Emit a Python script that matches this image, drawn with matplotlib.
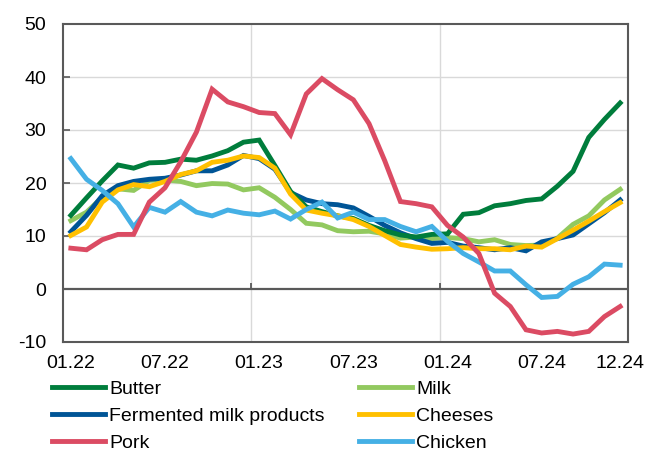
import numpy as np
import matplotlib.pyplot as plt

plt.rcParams['font.family'] = ['Liberation Sans', 'DejaVu Sans']
plt.rcParams['axes.unicode_minus'] = False

# monthly series, 01.22 .. 12.24 (annual % change)
months = [f"{m:02d}.{y}" for y in (22, 23, 24) for m in range(1, 13)]

butter = [13.9, 17.2, 20.4, 23.4, 22.8, 23.8, 23.9, 24.5, 24.3, 25.1, 26.1, 27.7,
          28.1, 23.3, 18.4, 15.5, 14.6, 13.8, 13.3, 12.0, 11.0, 10.2, 9.8, 10.3,
          10.4, 14.1, 14.4, 15.7, 16.1, 16.7, 17.0, 19.4, 22.2, 28.6, 32.0, 35.1]
milk = [12.9, 14.5, 17.3, 18.9, 18.6, 20.5, 20.6, 20.3, 19.5, 19.9, 19.8, 18.7,
        19.1, 17.3, 15.0, 12.4, 12.1, 11.0, 10.8, 10.9, 10.4, 9.6, 9.8, 9.5,
        9.7, 9.5, 8.9, 9.3, 8.4, 8.2, 8.3, 9.6, 12.2, 13.8, 16.8, 18.8]
fermented = [10.8, 13.9, 17.6, 19.5, 20.3, 20.7, 20.9, 21.5, 22.3, 22.3, 23.4, 25.2,
             24.6, 22.6, 18.2, 16.8, 16.1, 15.9, 15.3, 13.7, 12.0, 10.6, 9.5, 8.6,
             8.8, 8.1, 7.8, 7.4, 7.8, 7.2, 8.9, 9.5, 10.2, 12.3, 14.4, 16.8]
cheeses = [10.1, 11.7, 16.4, 18.7, 19.7, 19.3, 20.3, 21.6, 22.3, 23.9, 24.3, 25.1,
           24.8, 22.8, 17.9, 14.9, 14.3, 13.8, 13.1, 11.8, 10.1, 8.4, 7.9, 7.5,
           7.6, 7.8, 7.6, 7.6, 7.4, 8.1, 7.9, 9.5, 11.1, 12.8, 14.6, 16.3]
pork = [7.7, 7.4, 9.3, 10.3, 10.3, 16.4, 19.1, 24.0, 29.6, 37.7, 35.3, 34.4,
        33.3, 33.1, 29.1, 36.8, 39.7, 37.6, 35.7, 31.2, 24.2, 16.5, 16.1, 15.5,
        12.0, 9.8, 6.7, -0.8, -3.3, -7.7, -8.3, -8.0, -8.5, -8.0, -5.2, -3.3]
chicken = [24.6, 20.7, 18.6, 16.1, 11.7, 15.4, 14.5, 16.5, 14.5, 13.8, 14.9, 14.3,
           14.0, 14.7, 13.2, 15.0, 16.4, 13.4, 14.5, 13.1, 13.1, 11.8, 10.8, 11.8,
           9.0, 6.7, 5.1, 3.4, 3.4, 0.8, -1.6, -1.4, 0.9, 2.3, 4.7, 4.5]

tick_idx = [0, 6, 12, 18, 24, 30, 35]

series = [
    ("Butter", butter, "#007d3c"),
    ("Fermented milk products", fermented, "#005596"),
    ("Pork", pork, "#db4b63"),
    ("Milk", milk, "#92c95f"),
    ("Cheeses", cheeses, "#ffc000"),
    ("Chicken", chicken, "#45b0e5"),
]
draw_order = ["Milk", "Fermented milk products", "Butter", "Cheeses", "Chicken", "Pork"]

fig = plt.figure(figsize=(6.48, 4.5), dpi=100)
ax = fig.add_axes([63 / 648, 1 - 342 / 450, 565 / 648, 318 / 450])

x = np.arange(len(months))
lines = {}
for z, name in enumerate(draw_order):
    _, vals, col = next(s for s in series if s[0] == name)
    lines[name], = ax.plot(x, vals, color=col, lw=3.5, label=name,
                           solid_joinstyle='miter', zorder=3 + z)

ax.set_xlim(-0.5, len(months) - 0.5)
ax.set_ylim(-10, 50)
ax.set_yticks(range(-10, 51, 10))
ax.set_xticks(tick_idx)
ax.set_xticklabels([months[i] for i in tick_idx])

# light horizontal grid, year boundaries as vertical grid
for v in range(10, 50, 10):
    ax.axhline(v, color="#d9d9d9", lw=1, zorder=1)
for b in (11.5, 23.5):
    ax.axvline(b, color="#d9d9d9", lw=1, zorder=1)
ax.axhline(0, color="#595959", lw=1.6, zorder=2)
ax.vlines([11.5, 23.5], 0, 1.2, color="#595959", lw=1.3, zorder=2)

for sp in ax.spines.values():
    sp.set_color("#595959")
    sp.set_linewidth(1.5)

ax.tick_params(axis='y', direction='in', length=5, width=1.2, color="#595959",
               labelsize=14, pad=12)
ax.tick_params(axis='x', length=0, labelsize=14, pad=9)

handles = [lines[s[0]] for s in series]
fig.legend(handles, [h.get_label() for h in handles], ncol=2, frameon=False,
           loc='upper left', bbox_to_anchor=(52 / 648, 1 - 380 / 450),
           fontsize=14, handlelength=2.75, handletextpad=0.2,
           labelspacing=0.48, columnspacing=1.75, borderpad=0, borderaxespad=0)

fig.savefig("out.png", dpi=100)
